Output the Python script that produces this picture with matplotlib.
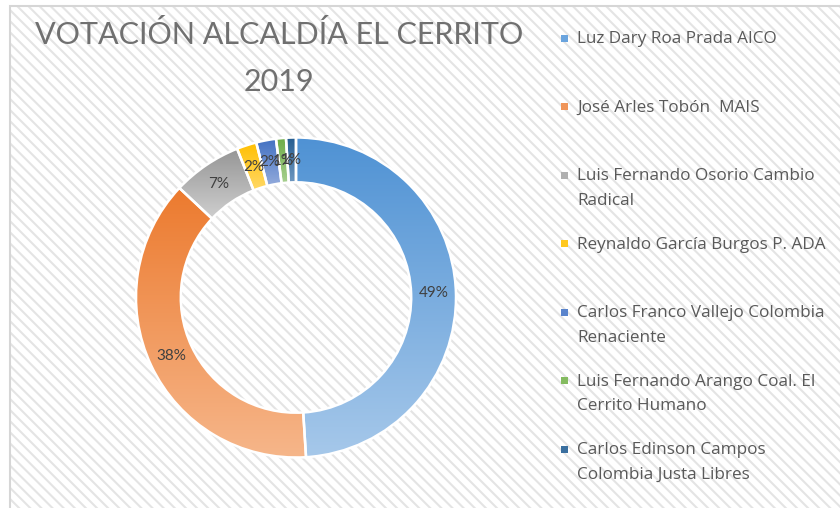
import matplotlib
matplotlib.use("Agg")
import matplotlib.pyplot as plt
import matplotlib.patches as mpatches
import numpy as np

# ---- data ----
title = "VOTACIÓN ALCALDÍA EL CERRITO\n2019"
candidates = [
    "Luz Dary Roa Prada AICO",
    "José Arles Tobón  MAIS",
    "Luis Fernando Osorio Cambio\nRadical",
    "Reynaldo García Burgos P. ADA",
    "Carlos Franco Vallejo Colombia\nRenaciente",
    "Luis Fernando Arango Coal. El\nCerrito Humano",
    "Carlos Edinson Campos\nColombia Justa Libres",
]
percentages = [49, 38, 7, 2, 2, 1, 1]
pct_labels = ["49%", "38%", "7%", "2%", "2%", "1%", "1%"]

# gradient colours (top -> bottom) per slice
top_colors = ["#4f92d4", "#ec7a2e", "#969696", "#ffbf00", "#4170c2", "#6cab45", "#245c90"]
bottom_colors = ["#a6c8ea", "#f6b68a", "#cfcfcf", "#ffd866", "#93abdc", "#a8d090", "#6f98c0"]
legend_colors = ["#6aa4de", "#f0955a", "#b0b0b0", "#ffc81f", "#5a84cc", "#84bb60", "#3a6f9f"]

plt.rcParams['hatch.linewidth'] = 1.5
fig = plt.figure(figsize=(8.4, 5.08), dpi=100)
W, H = 840, 508

# background with diagonal stripes and light frame
bg = mpatches.Rectangle((10 / W, -0.05), 1.2, 1.05 - 6 / H, transform=fig.transFigure,
                        facecolor="white", edgecolor="#e4e4e4", hatch="\\\\\\", linewidth=0,
                        zorder=0)
fig.add_artist(bg)
frame = mpatches.Rectangle((10 / W, -0.05), 1.2, 1.05 - 6 / H, transform=fig.transFigure,
                           facecolor="none", edgecolor="#d6d6d6", linewidth=1.5, zorder=1)
fig.add_artist(frame)

# donut axes
cx, cy, R = 296, 297.5, 160
ax = fig.add_axes([(cx - R) / W, (H - cy - R) / H, 2 * R / W, 2 * R / H])
ax.set_axis_off()
ring_width = 0.28
wedges, _ = ax.pie(percentages, startangle=90, counterclock=False, radius=1,
                   wedgeprops=dict(width=ring_width, edgecolor="white", linewidth=1.8),
                   colors=legend_colors)

for w, c0, c1 in zip(wedges, top_colors, bottom_colors):
    bb = w.get_path().get_extents()
    a = np.array(matplotlib.colors.to_rgb(c0))
    b = np.array(matplotlib.colors.to_rgb(c1))
    t = np.linspace(0, 1, 256)[:, None]
    grad = (a[None, :] * (1 - t) + b[None, :] * t)[:, None, :]
    im = ax.imshow(grad, extent=(bb.x0, bb.x1, bb.y0, bb.y1), origin="upper",
                   aspect="auto", zorder=2, interpolation="bilinear")
    im.set_clip_path(w)
    w.set_facecolor("none")
    w.set_zorder(3)

ax.set_xlim(-1, 1)
ax.set_ylim(-1, 1)
ax.set_aspect("auto")

rmid = 1 - ring_width / 2
for w, lab in zip(wedges, pct_labels):
    ang = np.deg2rad((w.theta1 + w.theta2) / 2)
    ax.text(rmid * np.cos(ang), rmid * np.sin(ang), lab, ha="center", va="center",
            fontsize=11, color="#404040", family="Lato", zorder=4)

# title
fig.text(279 / W, 1 - 58 / H, title, ha="center", va="center", fontsize=22,
         color="#707070", family="Lato", linespacing=1.8)

# legend (manual, to mimic the clipped Excel legend)
first_y = 38
step = 68.5
for i, (name, col) in enumerate(zip(candidates, legend_colors)):
    y = first_y + i * step
    fig.add_artist(mpatches.Rectangle(((561) / W, 1 - (y + 3.5) / H), 7 / W, 7 / H,
                                      transform=fig.transFigure, facecolor=col,
                                      edgecolor="none", zorder=5))
    fig.text(577 / W, 1 - (y - 7) / H, name, ha="left", va="top", fontsize=12.3,
             color="#595959", family="Open Sans", linespacing=1.72, zorder=5)

fig.savefig("out.png", dpi=100)
